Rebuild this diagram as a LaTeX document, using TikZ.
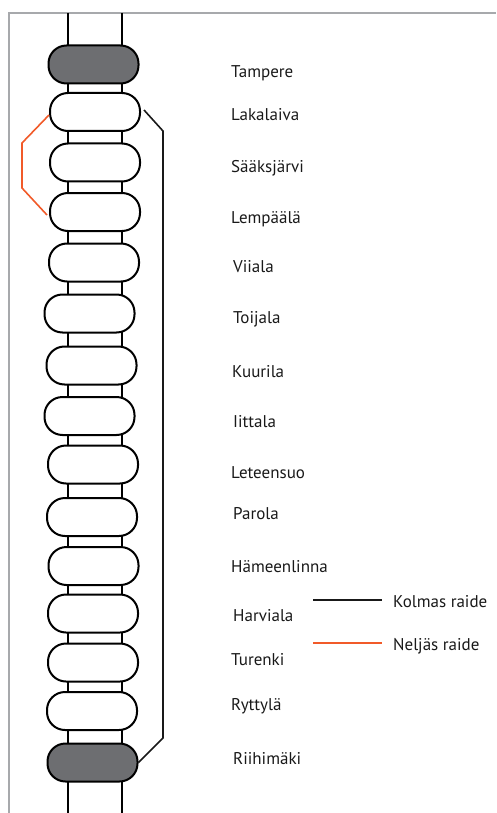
\documentclass[tikz,border=0pt]{standalone}
\usepackage{fontspec}
\setmainfont{PT Sans}
\definecolor{framegray}{HTML}{A7A9AC}
\definecolor{pillgray}{HTML}{6D6E71}
\definecolor{raideorange}{HTML}{F15A29}
\begin{document}
\begin{tikzpicture}[x=1pt,y=-1pt,
  pill/.style={draw=black,line width=2pt,fill=white,rounded corners=18pt,minimum width=90pt,minimum height=38pt,inner sep=0pt},
  endpill/.style={pill,fill=pillgray},
  lbl/.style={anchor=base west,font=\fontsize{17}{19}\selectfont,text=black!90,inner sep=0pt},
  rail/.style={line width=2pt,black},
  kolmas/.style={line width=1.6pt,black!90},
  neljas/.style={line width=1.6pt,raideorange}]
\useasboundingbox (0,0) rectangle (496,813);
% frame
\draw[framegray,line width=1.5pt] (9,813) -- (9,13) -- (496,13);
% rails
\coordinate (rlt) at (68,13);
\coordinate (rlb) at (68,813);
\coordinate (rrt) at (122,13);
\coordinate (rrb) at (122,813);
\draw[rail] (rlt) -- (rlb);
\draw[rail] (rrt) -- (rrb);
% stations
\node[endpill] (tam) at (93.5,64.5) {};
\node[pill] (lak) at (95,112) {};
\node[pill] (saa) at (95,162.5) {};
\node[pill] (lem) at (95,212) {};
\node[pill] (vii) at (94,262.5) {};
\node[pill] (toi) at (89.5,313.5) {};
\node[pill] (kuu) at (91.5,365.5) {};
\node[pill] (iit) at (89.5,416) {};
\node[pill] (let) at (93,464.5) {};
\node[pill] (par) at (92,517) {};
\node[pill] (ham) at (93.5,566) {};
\node[pill] (har) at (93,613.5) {};
\node[pill] (tur) at (93,662.5) {};
\node[pill] (ryt) at (92,711) {};
\node[endpill] (rii) at (92.5,762.5) {};
% labels
\node[lbl] (ltam) at (231,78) {Tampere};
\node[lbl] (llak) at (231,121) {Lakalaiva};
\node[lbl] (lsaa) at (231,172) {Sääksjärvi};
\node[lbl] (llem) at (231,223) {Lempäälä};
\node[lbl] (lvii) at (233,272) {Viiala};
\node[lbl] (ltoi) at (233,323) {Toijala};
\node[lbl] (lkuu) at (232,377) {Kuurila};
\node[lbl] (liit) at (233,427) {Iittala};
\node[lbl] (llet) at (231,478) {Leteensuo};
\node[lbl] (lpar) at (233,519) {Parola};
\node[lbl] (lham) at (231,572) {Hämeenlinna};
\node[lbl] (lhar) at (233,621) {Harviala};
\node[lbl] (ltur) at (231,665) {Turenki};
\node[lbl] (lryt) at (231,710) {Ryttylä};
\node[lbl] (lrii) at (233,764) {Riihimäki};
% Kolmas raide (third track)
\coordinate (k1) at (163,131);
\coordinate (k2) at (163,738);
\draw[kolmas] ([shift={(3pt,2pt)}]lak.east) -- (k1) -- (k2) -- (rii.east);
% Neljäs raide (fourth track)
\coordinate (n1) at (22,143);
\coordinate (n2) at (22,188);
\draw[neljas] ([shift={(0pt,-3pt)}]lak.west) -- (n1) -- (n2) -- ([shift={(-2pt,-3pt)}]lem.west);
% legend
\node[lbl] (lkol) at (393,607) {Kolmas raide};
\node[lbl] (lnel) at (393,650) {Neljäs raide};
\coordinate (lk1) at (313,600);
\coordinate (lk2) at (382,600);
\coordinate (ln1) at (313,643);
\coordinate (ln2) at (382,643);
\draw[kolmas] (lk1) -- (lk2);
\draw[neljas] (ln1) -- (ln2);
\end{tikzpicture}
\end{document}
